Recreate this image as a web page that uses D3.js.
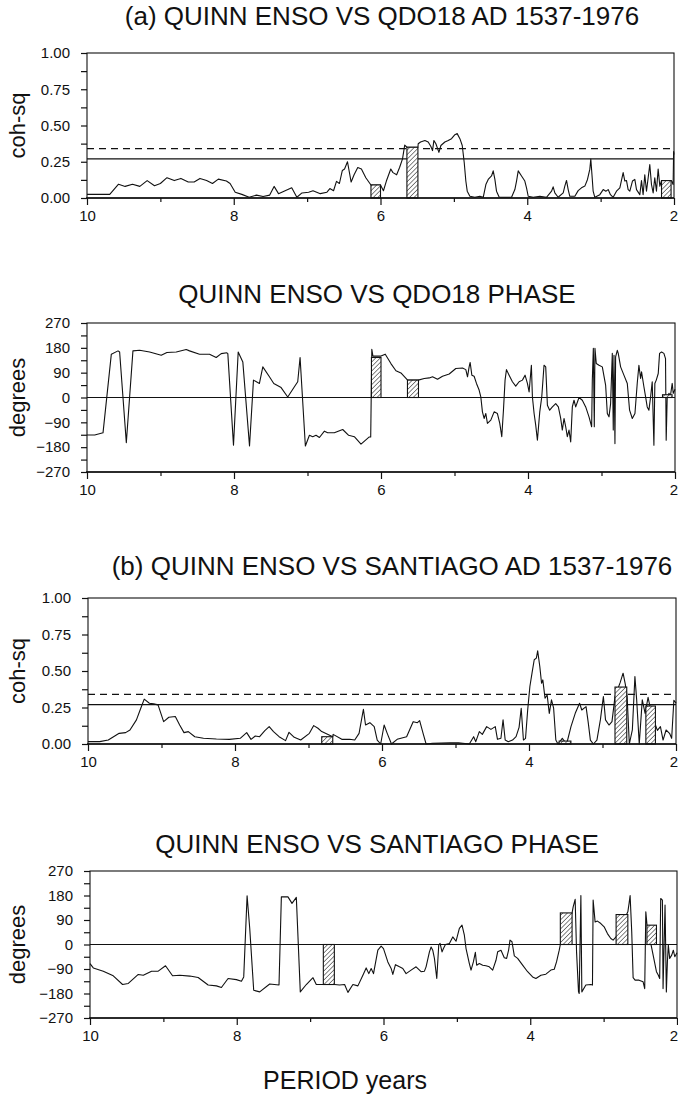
<!DOCTYPE html>
<html>
<head>
<meta charset="utf-8">
<script src="https://cdn.jsdelivr.net/npm/d3@7"></script>
<style>
  body { margin: 0; background: #fff; }
  svg { display: block; }
  text { font-family: "Liberation Sans", Arial, Helvetica, sans-serif; fill: #111; }
</style>
</head>
<body>
<svg id="chart" width="678" height="1098"></svg>
<script>
// ---- axis ticks ----
const periodMajor = [10, 8, 6, 4, 2];
const periodMinor = [9, 7, 5, 3];
const cohMajor = [0, 0.25, 0.5, 0.75, 1];
const cohMinor = [0.125, 0.375, 0.625, 0.875];
const phaseMajor = [-270, -180, -90, 0, 90, 180, 270];
const phaseMinor = [-225, -135, -45, 45, 135, 225];

// ---- significance levels for squared coherency ----
const cohLevelDashed = 0.34;
const cohLevelSolid = 0.27;

// ---- significant bands: start period, end period, coh-sq, phase ----
const qdoBandStart = [6.13, 5.64, 2.17];
const qdoBandEnd   = [6.00, 5.49, 2.04];
const qdoBandCoh   = [0.09, 0.35, 0.12];
const qdoBandPhase = [145, 63, 10];

const santBandStart = [6.82, 3.59, 2.83, 2.41];
const santBandEnd   = [6.67, 3.43, 2.67, 2.28];
const santBandCoh   = [0.05, 0.02, 0.39, 0.26];
const santBandPhase = [-147, 116, 110, 71];

// ---- Quinn ENSO vs QDO18: coherency squared [period, coh-sq] ----
const qdoCoh = [
  [10.0,0.025],[9.69,0.025],[9.57,0.095],[9.48,0.08],[9.38,0.095],[9.28,0.08],[9.18,0.12],[9.08,0.085],
  [9.0,0.1],[8.91,0.14],[8.81,0.12],[8.72,0.135],[8.62,0.11],[8.54,0.11],[8.46,0.135],[8.37,0.12],
  [8.29,0.1],[8.21,0.13],[8.10,0.117],[8.05,0.1],[7.98,0.04],[7.89,0.025],[7.79,0.005],[7.69,0.02],
  [7.60,0.01],[7.51,0.02],[7.45,0.08],[7.39,0.03],[7.30,0.05],[7.21,0.07],[7.14,0.005],[7.07,0.035],
  [6.98,0.04],[6.92,0.05],[6.82,0.03],[6.73,0.04],[6.69,0.065],[6.64,0.05],[6.60,0.115],[6.56,0.10],
  [6.52,0.19],[6.49,0.2],[6.45,0.25],[6.40,0.11],[6.36,0.16],[6.31,0.21],[6.26,0.2],[6.20,0.14],
  [6.13,0.09],[6.0,0.09],[5.96,0.05],[5.92,0.117],[5.86,0.2],[5.83,0.175],[5.78,0.16],[5.74,0.21],
  [5.70,0.27],[5.67,0.365],[5.64,0.35],[5.49,0.35],[5.486,0.374],[5.454,0.386],[5.395,0.397],[5.35,0.386],
  [5.313,0.355],[5.291,0.327],[5.272,0.397],[5.245,0.374],[5.204,0.315],[5.177,0.362],[5.123,0.386],
  [5.077,0.397],[5.032,0.409],[4.986,0.437],[4.955,0.444],[4.918,0.409],[4.886,0.362],[4.859,0.245],
  [4.837,0.117],[4.818,0.047],[4.782,0.012],[4.714,0.005],[4.646,0.012],[4.6,0.005],[4.564,0.093],
  [4.532,0.128],[4.487,0.152],[4.464,0.187],[4.441,0.128],[4.419,0.047],[4.382,0.005],[4.282,0.005],
  [4.214,0.005],[4.169,0.058],[4.146,0.117],[4.123,0.187],[4.078,0.152],[4.033,0.117],[4.01,0.07],
  [3.987,0.012],[3.919,0.005],[3.828,0.012],[3.738,0.005],[3.669,0.047],[3.647,0.077],[3.624,0.035],
  [3.579,0.005],[3.51,0.035],[3.488,0.082],[3.465,0.121],[3.442,0.058],[3.42,0.012],[3.351,0.012],
  [3.306,0.051],[3.261,0.07],[3.215,0.082],[3.179,0.128],[3.147,0.199],[3.134,0.269],[3.115,0.14],
  [3.102,0.047],[3.079,0.005],[3.011,0.023],[2.965,0.058],[2.929,0.047],[2.897,0.058],[2.866,0.023],
  [2.829,0.005],[2.784,0.047],[2.738,0.07],[2.693,0.175],[2.67,0.117],[2.648,0.121],[2.625,0.058],
  [2.602,0.047],[2.566,0.117],[2.534,0.128],[2.511,0.058],[2.466,0.023],[2.443,0.12],[2.421,0.023],
  [2.398,0.16],[2.375,0.047],[2.352,0.14],[2.33,0.23],[2.307,0.093],[2.284,0.035],[2.262,0.14],
  [2.239,0.047],[2.216,0.2],[2.193,0.082],[2.17,0.12],[2.035,0.12],[2.012,0.093],[2.005,0.32],[2.0,0.3]
];

// ---- Quinn ENSO vs QDO18: phase [period, degrees] ----
const qdoPhase = [
  [10.0,-136],[9.895,-136],[9.782,-128],[9.669,157],[9.578,169],[9.556,165],[9.465,-164],[9.375,169],
  [9.284,171],[9.148,165],[8.99,153],[8.913,163],[8.786,165],[8.65,174],[8.605,169],[8.469,157],
  [8.333,157],[8.242,145],[8.174,159],[8.097,162],[8.084,159],[8.007,-173],[7.943,165],[7.88,129],
  [7.789,-176],[7.735,63],[7.654,51],[7.608,111],[7.518,75],[7.459,51],[7.359,36],[7.269,2],
  [7.178,39],[7.133,57],[7.101,145],[7.029,-176],[6.974,-137],[6.929,-142],[6.884,-137],[6.838,-145],
  [6.77,-122],[6.725,-128],[6.635,-128],[6.521,-116],[6.44,-137],[6.363,-142],[6.272,-169],[6.159,-143],
  [6.14,-143],[6.125,175],[6.11,150],[6.0,150],[5.942,157],[5.865,123],[5.797,97],[5.729,89],
  [5.638,63],[5.493,63],[5.412,69],[5.343,71],[5.299,75],[5.231,66],[5.163,77],[5.072,85],
  [4.982,105],[4.891,107],[4.846,101],[4.823,75],[4.801,111],[4.787,127],[4.764,81],[4.733,77],
  [4.701,51],[4.665,27],[4.642,2],[4.62,-52],[4.597,-76],[4.574,-58],[4.552,-94],[4.506,-82],
  [4.461,-52],[4.416,-58],[4.384,-94],[4.357,-142],[4.334,-46],[4.312,63],[4.293,101],[4.257,81],
  [4.212,57],[4.167,41],[4.121,57],[4.076,63],[4.04,81],[4.008,51],[3.985,20],[3.954,117],
  [3.94,2],[3.917,-58],[3.895,-100],[3.872,-155],[3.84,-52],[3.813,2],[3.782,117],[3.759,111],
  [3.736,-28],[3.705,-46],[3.668,-34],[3.623,-22],[3.587,-34],[3.555,-76],[3.533,-118],[3.51,-76],
  [3.487,-106],[3.465,-142],[3.442,-118],[3.419,-161],[3.397,-34],[3.374,-10],[3.351,-34],[3.306,0],
  [3.261,-10],[3.215,-34],[3.17,-70],[3.134,-106],[3.125,63],[3.111,178],[3.098,-106],[3.089,178],
  [3.071,123],[3.034,117],[2.989,111],[2.944,45],[2.921,-58],[2.898,-70],[2.876,-22],[2.853,160],
  [2.84,-118],[2.83,153],[2.817,-167],[2.808,147],[2.785,171],[2.772,160],[2.74,111],[2.695,81],
  [2.649,51],[2.618,-46],[2.581,-76],[2.545,-58],[2.514,51],[2.491,117],[2.468,69],[2.455,93],
  [2.423,39],[2.4,2],[2.378,-34],[2.355,-46],[2.332,2],[2.31,57],[2.287,-173],[2.274,51],
  [2.255,63],[2.228,87],[2.21,160],[2.183,165],[2.151,160],[2.129,141],[2.12,-155],[2.106,2],
  [2.083,15],[2.061,8],[2.038,51],[2.024,15],[2.0,30]
];

// ---- Quinn ENSO vs Santiago: coherency squared [period, coh-sq] ----
const santCoh = [
  [10.0,0.016],[9.841,0.016],[9.724,0.027],[9.576,0.073],[9.488,0.078],[9.429,0.096],[9.341,0.165],
  [9.282,0.245],[9.235,0.307],[9.165,0.279],[9.106,0.275],[9.047,0.268],[8.971,0.153],[8.9,0.183],
  [8.812,0.188],[8.753,0.13],[8.694,0.078],[8.635,0.085],[8.547,0.05],[8.429,0.039],[8.253,0.034],
  [8.076,0.032],[7.929,0.039],[7.841,0.078],[7.782,0.032],[7.724,0.055],[7.665,0.05],[7.594,0.092],
  [7.535,0.119],[7.476,0.085],[7.4,0.05],[7.312,0.023],[7.265,0.08],[7.194,0.046],[7.106,0.027],
  [6.988,0.073],[6.929,0.126],[6.871,0.108],[6.82,0.085],[6.67,0.05],[6.665,0.066],[6.547,0.032],
  [6.441,0.032],[6.371,0.027],[6.312,0.073],[6.253,0.238],[6.224,0.13],[6.165,0.146],[6.106,0.119],
  [6.065,0.027],[6.018,0],[5.971,0.13],[5.929,0.073],[5.871,0],[5.794,0.032],[5.665,0.05],
  [5.576,0.153],[5.518,0.146],[5.488,0.16],[5.441,0.073],[5.4,0],[5.312,0.005],[5.076,0.009],
  [4.959,0.009],[4.812,0],[4.753,0.05],[4.724,0.016],[4.676,0.085],[4.635,0.066],[4.576,0.119],
  [4.518,0.1],[4.459,0.119],[4.429,0.032],[4.382,0.039],[4.353,0.165],[4.324,0.027],[4.282,0.016],
  [4.224,0.027],[4.176,0.05],[4.135,0.114],[4.106,0.245],[4.076,0.027],[4.047,0.039],[4.018,0.233],
  [3.988,0.394],[3.959,0.485],[3.929,0.577],[3.9,0.588],[3.882,0.638],[3.853,0.531],[3.829,0.416],
  [3.812,0.439],[3.782,0.313],[3.753,0.336],[3.724,0.21],[3.694,0.302],[3.665,0.245],[3.635,0.027],
  [3.606,0],[3.547,0.039],[3.488,0],[3.429,0.119],[3.371,0.21],[3.312,0.279],[3.282,0.233],
  [3.224,0.256],[3.194,0.146],[3.165,0.027],[3.124,0],[3.076,0.027],[3.029,0.165],[2.988,0.325],
  [2.959,0.165],[2.912,0.13],[2.871,0.153],[2.83,0.325],[2.76,0.42],[2.72,0.485],[2.69,0.41],
  [2.665,0.325],[2.635,0],[2.594,0.096],[2.559,0.462],[2.535,0.302],[2.5,0],[2.459,0.302],
  [2.42,0.21],[2.38,0.32],[2.33,0.2],[2.253,0.093],[2.212,0.119],[2.176,0.027],[2.135,0.096],
  [2.088,0.073],[2.059,0.039],[2.029,0.3],[2.0,0.28]
];

// ---- Quinn ENSO vs Santiago: phase [period, degrees] ----
const santPhase = [
  [10.0,-70],[9.955,-86],[9.819,-98],[9.683,-115],[9.556,-147],[9.478,-143],[9.342,-110],[9.274,-113],
  [9.161,-98],[9.07,-98],[8.971,-78],[8.875,-115],[8.776,-113],[8.639,-116],[8.526,-121],[8.39,-149],
  [8.277,-152],[8.209,-158],[8.118,-125],[8.005,-129],[7.936,-135],[7.905,-119],[7.859,179],[7.823,59],
  [7.769,-168],[7.687,-174],[7.551,-145],[7.424,-149],[7.392,175],[7.302,175],[7.247,151],[7.188,173],
  [7.134,-174],[7.052,-147],[6.961,-122],[6.916,-147],[6.825,-147],[6.667,-147],[6.599,-149],[6.53,-147],
  [6.485,-176],[6.417,-147],[6.349,-152],[6.281,-113],[6.236,-86],[6.2,-107],[6.168,-88],[6.136,-107],
  [6.077,-21],[6.032,-6],[6.0,-15],[5.941,-64],[5.896,-88],[5.873,-110],[5.837,-74],[5.782,-82],
  [5.737,-88],[5.692,-107],[5.624,-94],[5.556,-82],[5.488,-100],[5.442,-98],[5.42,-82],[5.374,-27],
  [5.351,-9],[5.329,-21],[5.306,-51],[5.274,-125],[5.247,-2],[5.229,4],[5.202,-27],[5.183,-15],
  [5.156,0],[5.102,4],[5.056,28],[5.011,12],[4.966,59],[4.93,71],[4.898,34],[4.875,-15],
  [4.83,-70],[4.807,-94],[4.775,-64],[4.748,-29],[4.73,-76],[4.694,-70],[4.648,-76],[4.603,-78],
  [4.558,-82],[4.512,-94],[4.467,-58],[4.444,-27],[4.399,-21],[4.354,-49],[4.322,-51],[4.295,-21],
  [4.276,16],[4.249,10],[4.217,-42],[4.172,-51],[4.104,-76],[4.036,-100],[3.968,-119],[3.923,-125],
  [3.855,-113],[3.787,-109],[3.719,-94],[3.673,-91],[3.642,-64],[3.605,-21],[3.59,0],[3.43,116],
  [3.415,138],[3.388,166],[3.369,-27],[3.342,-174],[3.333,-180],[3.31,180],[3.297,-174],[3.242,-149],
  [3.174,-147],[3.152,-149],[3.143,163],[3.116,83],[3.084,86],[3.038,77],[2.993,65],[2.948,40],
  [2.902,22],[2.871,16],[2.83,28],[2.67,120],[2.653,151],[2.639,180],[2.617,47],[2.598,-122],
  [2.571,-131],[2.517,-131],[2.462,-137],[2.44,-162],[2.425,120],[2.41,75],[2.28,-100],[2.254,-113],
  [2.236,-125],[2.222,169],[2.199,163],[2.19,-162],[2.163,145],[2.145,-174],[2.131,-64],[2.118,-2],
  [2.1,-51],[2.072,-39],[2.05,-21],[2.03,-45],[2.0,-30]
];

const W = 678;
const svg = d3.select("#chart");

// diagonal hatching used to fill the significant bands
const defs = svg.append("defs");
const hatch = defs.append("pattern")
  .attr("id", "hatch")
  .attr("patternUnits", "userSpaceOnUse")
  .attr("width", 3.2).attr("height", 3.2)
  .attr("patternTransform", "rotate(45)");
hatch.append("rect").attr("width", 3.2).attr("height", 3.2).attr("fill", "#fff");
hatch.append("line").attr("x1", 0).attr("y1", 0).attr("x2", 0).attr("y2", 3.2)
  .attr("stroke", "#222").attr("stroke-width", 1.1);

function drawPanel(o) {
  const x = d3.scaleLinear().domain([10, 2]).range([o.left, o.right]);
  const y = d3.scaleLinear().domain(o.domain).range([o.bottom, o.top]);
  const g = svg.append("g");

  // panel title
  g.append("text")
    .attr("x", o.titleX).attr("y", o.titleY)
    .attr("text-anchor", "middle")
    .attr("font-size", 26)
    .text(o.title);

  // vertical axis title
  g.append("text")
    .attr("transform", `translate(25,${(o.top + o.bottom) / 2}) rotate(-90)`)
    .attr("text-anchor", "middle")
    .attr("font-size", 22)
    .text(o.yTitle);

  // bottom axis: minor then major ticks
  const xMinor = g.append("g").attr("transform", `translate(0,${o.bottom})`)
    .call(d3.axisBottom(x).tickValues(periodMinor).tickSize(4).tickFormat(""));
  const xMajor = g.append("g").attr("transform", `translate(0,${o.bottom})`)
    .call(d3.axisBottom(x).tickValues(periodMajor).tickSize(7).tickPadding(5).tickFormat(d3.format("d")));

  // the label at the right end sits flush with the page edge
  xMajor.selectAll(".tick").filter(d => d === 2).select("text")
    .attr("text-anchor", "end")
    .attr("x", W - x(2) - 0.5);

  // left axis: minor then major ticks
  const yMinor = g.append("g").attr("transform", `translate(${o.left},0)`)
    .call(d3.axisLeft(y).tickValues(o.minor).tickSize(6).tickFormat(""));
  const yMajor = g.append("g").attr("transform", `translate(${o.left},0)`)
    .call(d3.axisLeft(y).tickValues(o.major).tickSize(6).tickPadding(11).tickFormat(o.fmt));

  [xMinor, xMajor, yMinor, yMajor].forEach(a => {
    a.select(".domain").remove();
    a.selectAll(".tick line").attr("stroke", "#111").attr("stroke-width", 1.2);
    a.selectAll(".tick text")
      .attr("font-family", "\"Liberation Sans\", Arial, sans-serif")
      .attr("font-size", 15).attr("fill", "#111");
  });

  // reference lines
  if (o.levels) {
    g.append("line")
      .attr("x1", o.left).attr("x2", o.right)
      .attr("y1", y(cohLevelDashed)).attr("y2", y(cohLevelDashed))
      .attr("stroke", "#111").attr("stroke-width", 1.3)
      .attr("stroke-dasharray", "7,5");
    g.append("line")
      .attr("x1", o.left).attr("x2", o.right)
      .attr("y1", y(cohLevelSolid)).attr("y2", y(cohLevelSolid))
      .attr("stroke", "#111").attr("stroke-width", 1.2);
  } else {
    g.append("line")
      .attr("x1", o.left).attr("x2", o.right)
      .attr("y1", y(0)).attr("y2", y(0))
      .attr("stroke", "#111").attr("stroke-width", 1.2);
  }

  // spectral curve
  g.append("path")
    .datum(o.curve)
    .attr("fill", "none")
    .attr("stroke", "#111")
    .attr("stroke-width", 1.1)
    .attr("stroke-linejoin", "round")
    .attr("d", d3.line().x(d => x(d[0])).y(d => y(d[1])));

  // hatched significant bands
  g.selectAll("rect.band")
    .data(d3.range(o.bandStart.length))
    .join("rect")
    .attr("class", "band")
    .attr("x", i => x(o.bandStart[i]))
    .attr("width", i => x(o.bandEnd[i]) - x(o.bandStart[i]))
    .attr("y", i => y(Math.max(0, o.bandValue[i])))
    .attr("height", i => Math.abs(y(o.bandValue[i]) - y(0)))
    .attr("fill", "url(#hatch)")
    .attr("stroke", "#111")
    .attr("stroke-width", 1.1);

  // frame
  g.append("rect")
    .attr("x", o.left).attr("y", o.top)
    .attr("width", o.right - o.left).attr("height", o.bottom - o.top)
    .attr("fill", "none").attr("stroke", "#111").attr("stroke-width", 1.1);
  g.append("line")
    .attr("x1", o.left - 1).attr("x2", o.right)
    .attr("y1", o.bottom).attr("y2", o.bottom)
    .attr("stroke", "#111").attr("stroke-width", 1.6);
}

const cohFmt = d3.format(".2f");
const phaseFmt = d3.format("d");

drawPanel({
  left: 87, right: 674, top: 53, bottom: 198,
  domain: [0, 1], major: cohMajor, minor: cohMinor, fmt: cohFmt, levels: true,
  title: "(a) QUINN ENSO VS QDO18 AD 1537-1976", titleX: 382, titleY: 25,
  yTitle: "coh-sq", curve: qdoCoh,
  bandStart: qdoBandStart, bandEnd: qdoBandEnd, bandValue: qdoBandCoh
});

drawPanel({
  left: 87, right: 675, top: 323, bottom: 472,
  domain: [-270, 270], major: phaseMajor, minor: phaseMinor, fmt: phaseFmt, levels: false,
  title: "QUINN ENSO VS QDO18 PHASE", titleX: 377, titleY: 303,
  yTitle: "degrees", curve: qdoPhase,
  bandStart: qdoBandStart, bandEnd: qdoBandEnd, bandValue: qdoBandPhase
});

drawPanel({
  left: 88, right: 676, top: 598, bottom: 744,
  domain: [0, 1], major: cohMajor, minor: cohMinor, fmt: cohFmt, levels: true,
  title: "(b) QUINN ENSO VS SANTIAGO AD 1537-1976", titleX: 392, titleY: 575,
  yTitle: "coh-sq", curve: santCoh,
  bandStart: santBandStart, bandEnd: santBandEnd, bandValue: santBandCoh
});

drawPanel({
  left: 90, right: 677, top: 871, bottom: 1018,
  domain: [-270, 270], major: phaseMajor, minor: phaseMinor, fmt: phaseFmt, levels: false,
  title: "QUINN ENSO VS SANTIAGO PHASE", titleX: 377, titleY: 853,
  yTitle: "degrees", curve: santPhase,
  bandStart: santBandStart, bandEnd: santBandEnd, bandValue: santBandPhase
});

// shared horizontal axis title
svg.append("text")
  .attr("x", 345).attr("y", 1089)
  .attr("text-anchor", "middle")
  .attr("font-size", 25)
  .text("PERIOD years");
</script>
</body>
</html>
